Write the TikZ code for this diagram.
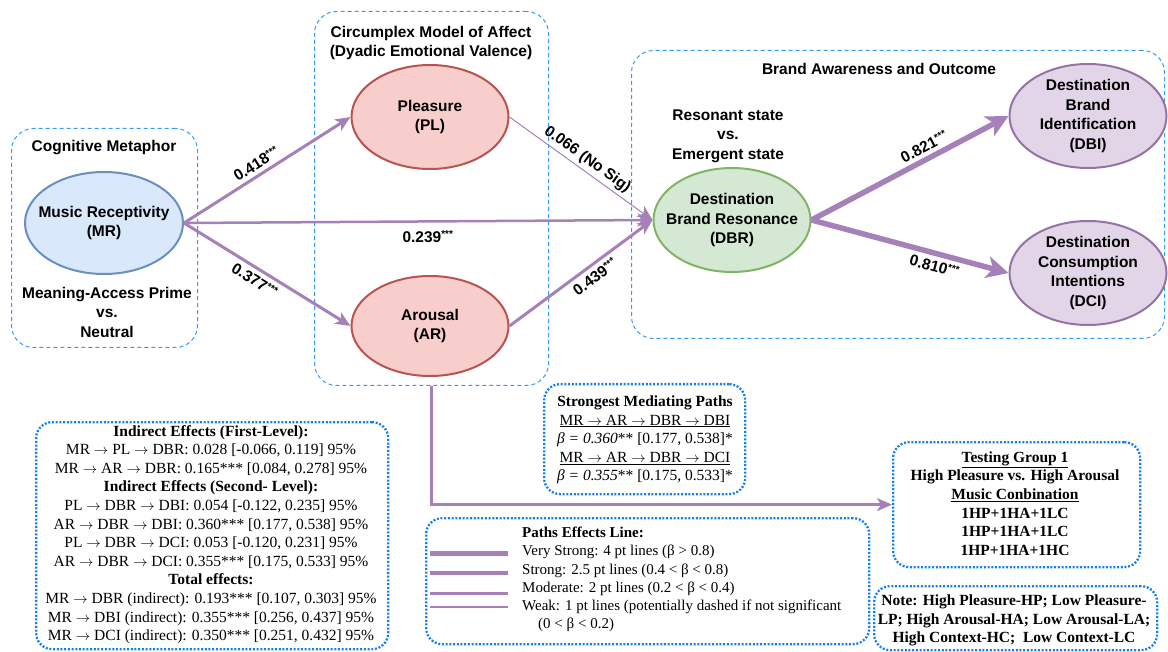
\documentclass[tikz,border=0pt]{standalone}
\usepackage{fontspec}
\setmainfont{Liberation Serif}
\newfontfamily\lsans{Liberation Sans}
\usetikzlibrary{arrows.meta,shapes.geometric}
\definecolor{arr}{RGB}{166,128,184}
\definecolor{dblue}{RGB}{51,153,255}
\definecolor{tblue}{RGB}{20,128,240}
\definecolor{mrfill}{RGB}{218,232,252}
\definecolor{mrdraw}{RGB}{108,142,191}
\definecolor{redfill}{RGB}{248,206,204}
\definecolor{reddraw}{RGB}{184,84,80}
\definecolor{grnfill}{RGB}{213,232,212}
\definecolor{grndraw}{RGB}{130,179,102}
\definecolor{purfill}{RGB}{225,213,231}
\definecolor{purdraw}{RGB}{150,115,166}
\newcommand{\stars}{\raisebox{4.5pt}{\fontsize{10}{10}\selectfont ***}}
\newcommand{\rarr}{\ensuremath{\rightarrow}}
\begin{document}
\begin{tikzpicture}[x=1pt,y=-1pt,
  dashbox/.style={draw=dblue, line width=1pt, dash pattern=on 4pt off 3pt, rounded corners=22pt, inner sep=0pt},
  dotbox/.style={draw=tblue, line width=2.3pt, dash pattern=on 2pt off 1.7pt, rounded corners=16pt, inner sep=0pt},
  ell/.style={ellipse, minimum width=157pt, minimum height=104pt, line width=2pt, inner sep=0pt},
  stxt/.style={align=center, inner sep=0pt, font=\lsans\bfseries\fontsize{15.5}{19.5}\selectfont},
  lbl/.style={inner sep=0pt, font=\lsans\bfseries\fontsize{15.5}{17}\selectfont, sloped},
  serif/.style={align=center, inner sep=0pt, font=\fontsize{15.5}{18.6}\selectfont},
  conn/.style={draw=arr, -{Stealth[length=15pt,width=13pt,inset=4pt]}},
  bigconn/.style={draw=arr, -{Stealth[length=22pt,width=22pt,inset=6pt]}}
]
\useasboundingbox (0,0) rectangle (1168,652);
% group boxes
\node[dashbox, anchor=north west, minimum width=186pt, minimum height=219pt] (cog) at (11,128) {};
\node[dashbox, anchor=north west, minimum width=234pt, minimum height=374pt] (cbox) at (314,11) {};
\node[dashbox, anchor=north west, minimum width=533pt, minimum height=288pt] (bbox) at (631,50) {};
% titles
\node[stxt] (cogt) at (104,148) {Cognitive Metaphor};
\node[stxt] (prime) at (107,312) {Meaning-Access Prime\\vs.\\Neutral};
\node[stxt] (cmt) at (431,43) {Circumplex Model of Affect\\(Dyadic Emotional Valence)};
\node[stxt] (bat) at (879,69) {Brand Awareness and Outcome};
\node[stxt] (res) at (728,136) {Resonant state\\vs.\\Emergent state};
% ellipses
\node[ell, fill=mrfill, draw=mrdraw, minimum width=158pt, minimum height=102pt] (mr) at (104,223) {};
\node[stxt] (mrt) at (mr.center) {Music Receptivity\\(MR)};
\node[ell, fill=redfill, draw=reddraw] (pl) at (430,117) {};
\node[stxt] (plt) at (pl.center) {Pleasure\\(PL)};
\node[ell, fill=redfill, draw=reddraw, minimum height=100pt] (ar) at (430,326) {};
\node[stxt] (art) at (ar.center) {Arousal\\(AR)};
\node[ell, fill=grnfill, draw=grndraw] (dbr) at (732,220) {};
\node[stxt] (dbrt) at (dbr.center) {Destination\\Brand Resonance\\(DBR)};
\node[ell, fill=purfill, draw=purdraw] (dbi) at (1088,116) {};
\node[stxt] (dbit) at (dbi.center) {Destination\\Brand\\Identification\\(DBI)};
\node[ell, fill=purfill, draw=purdraw] (dci) at (1088,273) {};
\node[stxt] (dcit) at (dci.center) {Destination\\Consumption\\Intentions\\(DCI)};
% connectors
\draw[conn, line width=3pt] (mr.east) -- node[lbl, above=4pt, pos=0.47] {0.418\stars} (pl.west);
\draw[conn, line width=3pt] (mr.east) -- node[lbl, below=4pt, pos=0.46] {0.377\stars} (ar.west);
\draw[conn, line width=2.5pt] (mr.east) -- node[lbl, below=8pt, pos=0.52] {0.239\stars} (dbr.west);
\draw[conn, line width=1pt] (pl.east) -- node[lbl, above=3pt, pos=0.5] {0.066 (No Sig)} (dbr.west);
\draw[conn, line width=3pt] (ar.east) -- node[lbl, below=4pt, pos=0.55] {0.439\stars} (dbr.west);
\draw[bigconn, line width=5.5pt] (dbr.east) -- node[lbl, above=4pt, pos=0.6] {0.821\stars} (dbi.west);
\draw[bigconn, line width=5.5pt] (dbr.east) -- node[lbl, below=4pt, pos=0.64] {0.810\stars} (dci.west);
% bottom boxes
\node[dotbox, anchor=north west, minimum width=352pt, minimum height=227pt] (ind) at (35,421) {};
\node[serif] (indt) at (211,534.5) {\textbf{Indirect Effects (First-Level):}\\
MR \rarr\ PL \rarr\ DBR: 0.028 [-0.066, 0.119] 95\%\\
MR \rarr\ AR \rarr\ DBR: 0.165*** [0.084, 0.278] 95\%\\
\textbf{Indirect Effects (Second- Level):}\\
PL \rarr\ DBR \rarr\ DBI: 0.054 [-0.122, 0.235] 95\%\\
AR \rarr\ DBR \rarr\ DBI: 0.360*** [0.177, 0.538] 95\%\\
PL \rarr\ DBR \rarr\ DCI: 0.053 [-0.120, 0.231] 95\%\\
AR \rarr\ DBR \rarr\ DCI: 0.355*** [0.175, 0.533] 95\%\\
\textbf{Total effects:}\\
MR \rarr\ DBR (indirect): 0.193*** [0.107, 0.303] 95\%\\
MR \rarr\ DBI (indirect): 0.355*** [0.256, 0.437] 95\%\\
MR \rarr\ DCI (indirect): 0.350*** [0.251, 0.432] 95\%};
\node[dotbox, anchor=north west, minimum width=201pt, minimum height=110pt] (smp) at (543,383) {};
\node[serif] (smpt) at (645,440) {\textbf{Strongest Mediating Paths}\\
\underline{MR \rarr\ AR \rarr\ DBR \rarr\ DBI}\\
\textit{β = 0.360}** [0.177, 0.538]*\\
\underline{MR \rarr\ AR \rarr\ DBR \rarr\ DCI}\\
\textit{β = 0.355}** [0.175, 0.533]*};
\node[dotbox, anchor=north west, minimum width=443pt, minimum height=126pt] (pel) at (425,517) {};
\node[serif, align=left, anchor=west, font=\fontsize{15}{18.2}\selectfont] (pelt) at (522,579.5) {\textbf{Paths Effects Line:}\\
Very Strong: 4 pt lines (β > 0.8)\\
Strong: 2.5 pt lines (0.4 < β < 0.8)\\
Moderate: 2 pt lines (0.2 < β < 0.4)\\
Weak: 1 pt lines (potentially dashed if not significant\\
\hspace*{16pt}(0 < β < 0.2)};
\coordinate (l1a) at (430,553); \coordinate (l1b) at (508,553);
\coordinate (l2a) at (430,573); \coordinate (l2b) at (508,573);
\coordinate (l3a) at (430,593); \coordinate (l3b) at (508,593);
\coordinate (l4a) at (430,607); \coordinate (l4b) at (508,607);
\draw[arr, line width=5pt] (l1a) -- (l1b);
\draw[arr, line width=3.2pt] (l2a) -- (l2b);
\draw[arr, line width=3pt] (l3a) -- (l3b);
\draw[arr, line width=1.3pt] (l4a) -- (l4b);
\node[dotbox, anchor=north west, minimum width=247pt, minimum height=125pt] (tg) at (892,441) {};
\node[serif, font=\bfseries\fontsize{15.5}{18.6}\selectfont] (tgt) at (1015,503.5) {\underline{Testing Group 1}\\
High Pleasure vs. High Arousal\\
\underline{Music Conbination}\\
1HP+1HA+1LC\\
1HP+1HA+1LC\\
1HP+1HA+1HC};
\node[dotbox, anchor=north west, minimum width=283pt, minimum height=64pt] (note) at (873,585) {};
\node[serif, font=\bfseries\fontsize{15.5}{18.5}\selectfont] (notet) at (1014,620.5) {Note: High Pleasure-HP; Low Pleasure-\\
LP; High Arousal-HA; Low Arousal-LA;\\
High Context-HC;\ \ Low Context-LC};
% connector from circumplex box to testing group
\draw[conn, line width=2.5pt] (cbox.south) |- (tg.west);
\end{tikzpicture}
\end{document}
